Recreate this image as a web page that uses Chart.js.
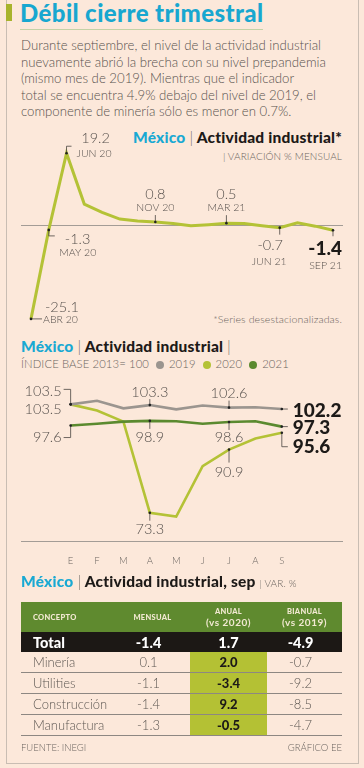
<!DOCTYPE html>
<html>
<head>
<meta charset="utf-8">
<script src="https://cdn.jsdelivr.net/npm/chart.js@4"></script>
<style>
  body { margin: 0; width: 364px; height: 768px; background: #fce8da; position: relative; overflow: hidden; font-family: Lato, sans-serif; color: #58524e; }
  .abs { position: absolute; }
  .frame { left: 6px; top: -2px; width: 353px; height: 766px; border: 1px solid #c9bdb3; border-top: none; box-sizing: border-box; }
  .bar { left: 6px; top: 4px; width: 6px; height: 17px; background: #a8b32c; }
  h1 { position: absolute; left: 20px; top: -2px; margin: 0; font: 900 24px Lato; color: #18a7d0; letter-spacing: 0.4px; white-space: nowrap; }
  .rule { left: 20px; top: 29px; width: 243px; height: 1px; background: #c4d2a6; }
  .intro { left: 21px; top: 37px; width: 338px; font: 300 13.2px/16.6px Lato; color: #58524e; margin: 0; white-space: nowrap; }
  .ttl { font: 900 15.5px Lato; color: #1d1a18; white-space: nowrap; letter-spacing: 0.2px; }
  .ttl .mx { color: #19a9d3; }
  .ttl .sep { font-weight: 300; color: #77716c; }
  .sub { font: 300 10px Lato; color: #6b6560; white-space: nowrap; letter-spacing: 0.1px; }
  .dot { display: inline-block; width: 8px; height: 8px; border-radius: 50%; margin: 0 5px 0 7px; vertical-align: -0.5px; }
  table { position: absolute; left: 21px; top: 602px; width: 321px; border-collapse: collapse; }
  th { background: #5f8a2f; color: #f2e9d2; font: 900 7.5px Lato; height: 30px; padding: 0; letter-spacing: 0.3px; }
  th .big { font-size: 10px; font-weight: 700; letter-spacing: 0.5px; }
  td { height: 20px; padding: 0; border-bottom: 1px solid #8d8782; font: 300 13px Lato; color: #5e5853; text-align: center; }
  td:first-child, th:first-child { text-align: left; padding-left: 12px; }
  tr.total td { background: #1c1815; color: #fff; font: 900 14.5px Lato; border-bottom: none; }
  td.hl { background: #b4c134; color: #1d1a18; font-weight: 900; }
  .foot { font: 300 9.5px Lato; color: #6b6560; top: 742px; }
</style>
</head>
<body>
<div class="abs frame"></div>
<div class="abs bar"></div>
<h1>Débil cierre trimestral</h1>
<div class="abs rule"></div>
<p class="abs intro">Durante septiembre, el nivel de la actividad industrial<br>nuevamente abrió la brecha con su nivel prepandemia<br>(mismo mes de 2019). Mientras que el indicador<br>total se encuentra 4.9% debajo del nivel de 2019, el<br>componente de minería sólo es menor en 0.7%.</p>

<div class="abs ttl" style="right:22px; top:128px;"><span class="mx">México</span> <span class="sep">|</span> Actividad industrial*</div>
<div class="abs sub" style="right:22px; top:150px;"><span class="sep">|</span> VARIACIÓN % MENSUAL</div>
<div class="abs sub" style="right:22px; top:313px; font-size:10.6px;">*Series desestacionalizadas.</div>
<canvas id="varChart" class="abs" style="left:0; top:128px;" width="364" height="205"></canvas>

<div class="abs ttl" style="left:21px; top:337px;"><span class="mx">México</span> <span class="sep">|</span> Actividad industrial <span class="sep">|</span></div>
<div class="abs sub" id="legend" style="left:21px; top:357px; font-size:11.3px;"></div>
<canvas id="idxChart" class="abs" style="left:0; top:380px;" width="364" height="195"></canvas>

<div class="abs ttl" style="left:21px; top:572px;"><span class="mx">México</span> <span class="sep">|</span> Actividad industrial, sep <span class="sub"><span class="sep">|</span> VAR. %</span></div>
<table id="tabla"></table>
<div class="abs foot" style="left:21px;">FUENTE: INEGI</div>
<div class="abs foot" style="right:22px;">GRÁFICO EE</div>

<script>
// variación mensual, abr 2020 - sep 2021
const monthsVar = ['ABR 20', 'MAY 20', 'JUN 20', 'JUL 20', 'AGO 20', 'SEP 20', 'OCT 20', 'NOV 20', 'DIC 20',
    'ENE 21', 'FEB 21', 'MAR 21', 'ABR 21', 'MAY 21', 'JUN 21', 'JUL 21', 'AGO 21', 'SEP 21'];
const varMensual = [-25.1, -1.3, 19.2, 5.6, 3.4, 1.6, 1.1, 0.8, 0.4, -0.2, 0.1, 0.5, 0.4, -0.2, -0.7, 0.6, -0.3, -1.4];

// índice base 2013 = 100, ene - sep
const meses = ['E', 'F', 'M', 'A', 'M', 'J', 'J', 'A', 'S'];
const years = ['2019', '2020', '2021'];
const idx2019 = [103.5, 104.5, 102.4, 103.3, 102.1, 103.2, 102.6, 102.7, 102.2];
const idx2020 = [103.5, 101.8, 98.7, 73.3, 72.2, 86.3, 90.9, 94.0, 95.6];
const idx2021 = [97.6, 98.1, 98.7, 98.9, 98.8, 98.1, 98.6, 98.8, 97.3];

// tabla sep 2021
const conceptos = ['Total', 'Minería', 'Utilities', 'Construcción', 'Manufactura'];
const mensual = [-1.4, 0.1, -1.1, -1.4, -1.3];
const anual = [1.7, 2.0, -3.4, 9.2, -0.5];
const bianual = [-4.9, -0.7, -9.2, -8.5, -4.7];

const colors = { y2019: '#9b958f', y2020: '#b4c236', y2021: '#5b8a2f', ink: '#1d1a18', text: '#57514d', rule: '#a39c96' };

// legend
document.getElementById('legend').innerHTML = 'ÍNDICE BASE 2013= 100' + years.map((y, i) =>
    '<span class="dot" style="background:' + [colors.y2019, colors.y2020, colors.y2021][i] + '"></span>' + y).join('');

// table
const fmt = v => v.toFixed(1);
let html = '<tr><th style="width:82px">CONCEPTO</th><th style="width:75px">MENSUAL</th>' +
    '<th style="width:77px">ANUAL<br><span class="big">(vs 2020)</span></th><th>BIANUAL<br><span class="big">(vs 2019)</span></th></tr>';
conceptos.forEach((c, i) => {
    html += '<tr' + (i === 0 ? ' class="total"' : '') + '><td>' + c + '</td><td style="padding-right:8px">' + fmt(mensual[i]) +
        '</td><td' + (i > 0 ? ' class="hl"' : '') + '>' + fmt(anual[i]) + '</td><td style="padding-right:8px">' + fmt(bianual[i]) + '</td></tr>';
});
document.getElementById('tabla').innerHTML = html;

// draws the callouts next to points, and the zero line
const annotate = {
    id: 'annotate',
    beforeDatasetsDraw(chart, args, opts) {
        if (!opts.zero) return;
        const ctx = chart.ctx, area = chart.chartArea;
        const y0 = Math.round(chart.scales.y.getPixelForValue(0)) + 0.5;
        ctx.save();
        ctx.strokeStyle = colors.rule;
        ctx.lineWidth = 1;
        ctx.beginPath();
        ctx.moveTo(area.left, y0);
        ctx.lineTo(area.right, y0);
        ctx.stroke();
        ctx.restore();
    },
    afterDatasetsDraw(chart, args, opts) {
        const ctx = chart.ctx;
        ctx.save();
        (opts.notes || []).forEach(n => {
            const d = n.ds || 0;
            const pt = chart.getDatasetMeta(d).data[n.i];
            const raw = chart.data.datasets[d].data[n.i];
            const value = typeof raw === 'object' ? raw.y : raw;
            const x = pt.x, y = pt.y;
            if (n.path) {
                ctx.strokeStyle = '#4a4541';
                ctx.lineWidth = 0.8;
                ctx.beginPath();
                n.path.forEach((p, k) => k ? ctx.lineTo(x + p[0], y + p[1]) : ctx.moveTo(x + p[0], y + p[1]));
                ctx.stroke();
            }
            ctx.fillStyle = '#222';
            ctx.beginPath();
            ctx.arc(x, y, 1.3, 0, Math.PI * 2);
            ctx.fill();
            n.labels.forEach(l => {
                ctx.font = (l.weight || 300) + ' ' + l.size + 'px Lato';
                ctx.fillStyle = l.color || colors.text;
                ctx.textAlign = l.align || 'center';
                ctx.textBaseline = 'middle';
                const txt = l.kind === 'value' ? fmt(value) : chart.data.labels[n.i];
                ctx.fillText(txt, x + l.dx, y + l.dy);
            });
        });
        ctx.restore();
    }
};

const val = (dx, dy, align, size) => ({ kind: 'value', dx, dy, align, size: size || 14.5 });
const mon = (dx, dy, align) => ({ kind: 'month', dx, dy, align, size: 10.5 });
const big = (dx, dy, align, size) => ({ kind: 'value', dx, dy, align, size, weight: 900, color: colors.ink });

new Chart(document.getElementById('varChart'), {
    type: 'line',
    data: {
        labels: monthsVar,
        datasets: [{
            data: varMensual.map((v, i) => ({ x: i, y: v })),
            borderColor: colors.y2020,
            borderWidth: 3,
            pointRadius: 0,
            tension: 0,
            clip: false
        }]
    },
    options: {
        responsive: false,
        animation: false,
        layout: { padding: { left: 21, right: 21, top: 18.5, bottom: 7 } },
        plugins: {
            legend: { display: false },
            tooltip: { enabled: false },
            annotate: {
                zero: true,
                notes: [
                    { i: 0, path: [[0, 0], [11, 0]], labels: [val(14, -12, 'left'), mon(12, 0.5, 'left')] },
                    { i: 1, path: [[0, 0], [0, 6], [6, 6]], labels: [val(16, 9, 'left'), mon(10.5, 23, 'left')] },
                    { i: 2, path: [[0, 0], [0, -7], [5, -7]], labels: [val(29, -15, 'center'), mon(10, 0.5, 'left')] },
                    { i: 7, path: [[0, 0], [0, -7]], labels: [val(0, -28, 'center'), mon(0, -14, 'center')] },
                    { i: 11, path: [[0, 0], [0, -8]], labels: [val(0, -29, 'center'), mon(0, -15.5, 'center')] },
                    { i: 14, path: [[0, 0], [0, 7]], labels: [val(-9.5, 18, 'center'), mon(-10.5, 33.5, 'center')] },
                    { i: 17, path: [[0, 0], [0, 6]], labels: [big(9, 19, 'right', 19), mon(9, 35.5, 'right')] }
                ]
            }
        },
        scales: {
            x: { type: 'linear', display: false, min: -0.563, max: 17.563 },
            y: { display: false, min: -27, max: 21 }
        }
    },
    plugins: [annotate]
});

new Chart(document.getElementById('idxChart'), {
    type: 'line',
    data: {
        datasets: [
            { label: '2019', data: idx2019.map((v, i) => ({ x: i, y: v })), borderColor: colors.y2019 },
            { label: '2021', data: idx2021.map((v, i) => ({ x: i, y: v })), borderColor: colors.y2021 },
            { label: '2020', data: idx2020.map((v, i) => ({ x: i, y: v })), borderColor: colors.y2020 }
        ].map(ds => Object.assign(ds, { borderWidth: 2.6, pointRadius: 0, tension: 0, clip: false }))
    },
    options: {
        responsive: false,
        animation: false,
        layout: { padding: { left: 21, right: 22, top: 15.4, bottom: 3.3 } },
        plugins: {
            legend: { display: false },
            tooltip: { enabled: false },
            annotate: {
                notes: [
                    { ds: 0, i: 0, path: [[0, 0], [0, -15], [-7, -15]], labels: [val(-9, -13, 'right')] },
                    { ds: 2, i: 0, labels: [val(-9, 5, 'right')] },
                    { ds: 1, i: 0, path: [[0, 0], [0, 12], [-7, 12]], labels: [val(-9, 11.5, 'right')] },
                    { ds: 0, i: 3, path: [[0, 0], [0, -6]], labels: [val(0, -13, 'center')] },
                    { ds: 1, i: 3, path: [[0, 0], [0, 8]], labels: [val(0, 16.5, 'center')] },
                    { ds: 2, i: 3, path: [[0, 0], [0, 8]], labels: [val(0, 16.5, 'center')] },
                    { ds: 0, i: 6, path: [[0, 0], [0, -7]], labels: [val(0, -14, 'center')] },
                    { ds: 1, i: 6, path: [[0, 0], [0, 8]], labels: [val(0, 15.5, 'center')] },
                    { ds: 2, i: 6, path: [[0, 0], [0, 13]], labels: [val(0, 23, 'center')] },
                    { ds: 0, i: 8, path: [[0, 0], [6, 0]], labels: [big(11, 2, 'left', 19)] },
                    { ds: 1, i: 8, path: [[0, 0], [6, 0]], labels: [big(11, 1, 'left', 19)] },
                    { ds: 2, i: 8, path: [[0, 0], [0, 14], [6, 14]], labels: [big(11, 14, 'left', 19)] }
                ]
            }
        },
        scales: {
            x: {
                type: 'linear',
                min: -1.88,
                max: 10.28,
                afterBuildTicks: scale => { scale.ticks = meses.map((m, i) => ({ value: i })); },
                afterFit: scale => { scale.height = 30; },
                ticks: {
                    autoSkip: false,
                    maxRotation: 0,
                    padding: 13.3,
                    color: '#6b6560',
                    font: { family: 'Lato', size: 9.5, weight: 300 },
                    callback: v => meses[v]
                },
                grid: { display: false, drawTicks: false },
                border: { color: colors.rule, width: 1 }
            },
            y: { display: false, min: 65.22, max: 106 }
        }
    },
    plugins: [annotate]
});
</script>
</body>
</html>
